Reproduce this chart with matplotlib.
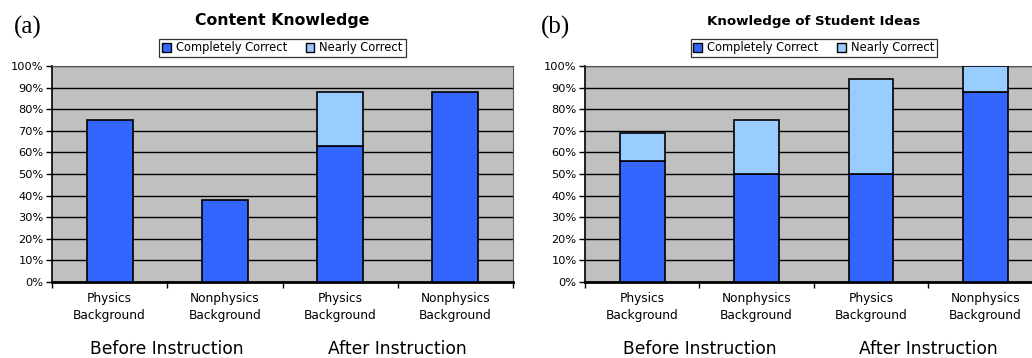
import numpy as np
import matplotlib.pyplot as plt
from matplotlib.patches import Patch
from matplotlib.ticker import PercentFormatter

plt.rcParams["font.family"] = ["DejaVu Sans"]

# data
categories = ["Physics\nBackground", "Nonphysics\nBackground",
              "Physics\nBackground", "Nonphysics\nBackground"]
groups = ["Before Instruction", "After Instruction"]

content_complete = [75, 38, 63, 88]
content_nearly = [0, 0, 25, 0]

ideas_complete = [56, 50, 50, 88]
ideas_nearly = [13, 25, 44, 12]

DARK = "#3366FF"
LIGHT = "#99CCFF"
BG = "#C0C0C0"

fig = plt.figure(figsize=(10.32, 3.58), dpi=100)


def draw_panel(rect, complete, nearly, title, title_size, title_y, bar_w):
    ax = fig.add_axes(rect)
    ax.set_facecolor(BG)
    x = np.arange(len(categories))
    ax.bar(x, complete, width=bar_w, color=DARK, edgecolor="black",
           linewidth=1.2, zorder=3)
    nz = np.array(nearly) > 0
    ax.bar(x[nz], np.array(nearly)[nz], bottom=np.array(complete)[nz],
           width=bar_w, color=LIGHT, edgecolor="black", linewidth=1.2, zorder=3)

    ax.set_ylim(0, 100)
    ax.set_xlim(-0.5, len(categories) - 0.5)
    ax.set_yticks(np.arange(0, 101, 10))
    ax.yaxis.set_major_formatter(PercentFormatter(decimals=0))
    ax.yaxis.grid(True, color="black", linewidth=1.0, zorder=1)
    ax.set_axisbelow(True)

    # ticks at category boundaries, labels at centres
    ax.set_xticks(np.arange(-0.5, len(categories), 1.0))
    ax.set_xticklabels([])
    ax.set_xticks(x, minor=True)
    ax.set_xticklabels(categories, minor=True, fontsize=8.7, linespacing=1.45)
    ax.tick_params(axis="x", which="minor", length=0, pad=7)
    ax.tick_params(axis="x", which="major", length=4, width=1, direction="out")
    ax.tick_params(axis="y", length=4, width=1, direction="out", labelsize=8.2,
                   pad=2)

    for side in ["top", "right"]:
        ax.spines[side].set_color("#555555")
        ax.spines[side].set_linewidth(0.8)
    ax.spines["left"].set_linewidth(1.2)
    ax.spines["bottom"].set_linewidth(2.0)

    left, bottom, width, height = rect
    cx = left + width / 2
    fig.text(cx, 1 - title_y / 358, title, ha="center", va="center",
             fontsize=title_size, fontweight="bold")

    handles = [Patch(facecolor=DARK, edgecolor="black", linewidth=1),
               Patch(facecolor=LIGHT, edgecolor="black", linewidth=1)]
    leg = ax.legend(handles, ["Completely Correct", "Nearly Correct"],
                    loc="lower center", bbox_to_anchor=(0.5, 1.04), ncol=2,
                    fontsize=8.3, frameon=True, fancybox=False,
                    handlelength=0.75, handleheight=0.75, handletextpad=0.45,
                    columnspacing=1.6, borderpad=0.25, borderaxespad=0)
    leg.get_frame().set_edgecolor("black")
    leg.get_frame().set_linewidth(0.9)

    # group labels under the category pairs
    cat_w = width / len(categories)
    for i, g in enumerate(groups):
        gx = left + cat_w * (2 * i + 1)
        fig.text(gx, 1 - 349 / 358, g, ha="center", va="center", fontsize=12.3)
    return ax


ax_a = draw_panel([52 / 1032, 76 / 358, 461 / 1032, 216 / 358],
                  content_complete, content_nearly, "Content Knowledge", 11.3,
                  20, 0.4)
ax_b = draw_panel([585 / 1032, 76 / 358, 457.6 / 1032, 216 / 358],
                  ideas_complete, ideas_nearly, "Knowledge of Student Ideas", 9.6,
                  22, 0.39)

fig.text(14 / 1032, 1 - 27 / 358, "(a)", ha="left", va="center",
         fontsize=18, family=["Liberation Serif", "DejaVu Serif"])
fig.text(541 / 1032, 1 - 27 / 358, "(b)", ha="left", va="center",
         fontsize=18, family=["Liberation Serif", "DejaVu Serif"])

fig.savefig("out.png", dpi=100)
